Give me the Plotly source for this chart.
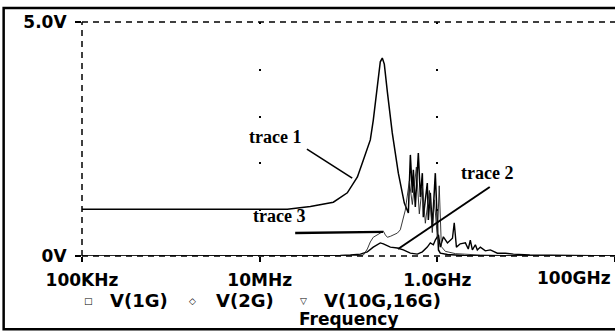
import plotly.graph_objects as go

# ---------------- data ----------------
trace1_freq = [1e5, 1e6, 1e7, 2.05e7, 3.72e7, 6.75e7, 9.7e7, 1.26e8, 1.47e8, 1.76e8, 1.90e8,
               2.11e8, 2.28e8, 2.40e8, 2.53e8, 2.74e8, 3.11e8, 3.64e8, 4.25e8, 4.72e8,
               4.97e8, 5.23e8, 5.37e8, 5.65e8, 6.11e8, 6.44e8, 6.78e8, 6.95e8, 7.71e8,
               7.92e8, 8.34e8, 8.78e8, 9.49e8, 1.0e9, 1.03e9, 1.08e9, 1.3e9, 2e9, 1e10, 1e11]
trace1_v = [1.00, 1.00, 1.00, 1.00, 1.06, 1.15, 1.35, 1.69, 2.05, 2.48, 2.90,
            3.70, 4.15, 4.23, 4.10, 3.50, 2.63, 1.77, 1.13, 0.92,
            2.16, 1.35, 1.84, 1.05, 2.20, 1.26, 1.77, 0.83, 1.56,
            0.77, 1.35, 0.62, 1.77, 0.71, 0.13, 0.06, 0.03, 0.01, 0.0, 0.0]

trace3_freq = [1e5, 1e7, 1e8, 1.47e8, 1.63e8, 1.76e8, 1.90e8, 2.28e8, 2.47e8, 2.60e8,
               2.74e8, 2.96e8, 3.55e8, 3.83e8, 4.14e8, 4.36e8, 4.84e8, 5.23e8, 5.81e8,
               6.27e8, 6.78e8, 7.33e8, 8.13e8, 8.78e8, 9.25e8, 1.0e9, 1.05e9, 1.11e9,
               1.23e9, 1.60e9, 3.05e9, 1.1e10, 1e11]
trace3_v = [0.0, 0.0, 0.0, 0.02, 0.15, 0.30, 0.40, 0.49, 0.53, 0.45,
            0.40, 0.42, 0.49, 0.56, 0.83, 0.98, 1.60, 1.10, 1.90,
            0.90, 1.50, 0.70, 1.40, 0.50, 1.20, 0.40, 1.50, 0.20,
            0.10, 0.05, 0.02, 0.0, 0.0]

trace2_freq = [1e5, 3e7, 8.09e7, 1.05e8, 1.36e8, 1.63e8, 1.90e8, 2.28e8, 2.47e8, 2.96e8,
               3.55e8, 4.14e8, 4.97e8, 5.96e8, 6.78e8, 7.71e8, 8.34e8, 9.02e8, 9.49e8,
               1.03e9, 1.08e9, 1.17e9, 1.30e9, 1.48e9, 1.55e9, 1.64e9, 1.81e9, 2.07e9,
               2.23e9, 2.35e9, 2.48e9, 2.68e9, 2.82e9, 3.05e9, 3.47e9, 3.95e9,
               4.74e9, 5.83e9, 7.18e9, 1.1e10, 1e11]
trace2_v = [0.0, 0.0, 0.01, 0.02, 0.04, 0.09, 0.19, 0.28, 0.26, 0.19,
            0.17, 0.13, 0.06, 0.04, 0.09, 0.19, 0.28, 0.24, 0.34,
            0.45, 0.19, 0.41, 0.28, 0.38, 0.71, 0.19, 0.26, 0.28,
            0.15, 0.34, 0.13, 0.24, 0.13, 0.19, 0.11, 0.13,
            0.06, 0.06, 0.04, 0.02, 0.0]

x_tickvals = [1e5, 1e7, 1e9, 1e11]
x_ticktext = ["100KHz", "10MHz", "1.0GHz", ""]
y_tickvals = [0, 5]
y_ticktext = ["0V", "5.0V"]
legend_names = ["V(1G)", "V(2G)", "V(10G,16G)"]
legend_symbols = ["\u25a1", "\u25c7", "\u25bd"]

BOLD = dict(family="DejaVu Sans", size=17, color="black", weight="bold")

fig = go.Figure()
fig.add_trace(go.Scatter(x=trace1_freq, y=trace1_v, mode="lines",
                         line=dict(color="black", width=1.5), name=legend_names[0]))
fig.add_trace(go.Scatter(x=trace2_freq, y=trace2_v, mode="lines",
                         line=dict(color="black", width=1.4), name=legend_names[1]))
fig.add_trace(go.Scatter(x=trace3_freq, y=trace3_v, mode="lines",
                         line=dict(color="#222", width=0.9), name=legend_names[2]))

# dashed plot frame
dash = "6px,5px"
for x0, y0, x1, y1 in [(0, 0, 0, 1), (0, 1, 1, 1), (0, 0, 1, 0)]:
    fig.add_shape(type="line", xref="x domain", yref="y domain", x0=x0, y0=y0, x1=x1, y1=y1,
                  line=dict(color="black", width=1.5, dash=dash))
# outer border
fig.add_shape(type="rect", xref="paper", yref="paper", x0=-0.147, y0=-0.313, x1=1.02, y1=1.06,
              line=dict(color="black", width=2.5))

# pointer lines for the trace labels
pointers = [((0.422, 0.457), (0.507, 0.333), 1.6),
            ((0.400, 0.098), (0.565, 0.103), 2.4),
            ((0.765, 0.295), (0.593, 0.030), 2.0)]
for (a, b, w) in pointers:
    fig.add_shape(type="line", xref="x domain", yref="y domain", x0=a[0], y0=a[1], x1=b[0], y1=b[1],
                  line=dict(color="black", width=w))

label_font = dict(family="Liberation Serif", size=18, color="black")
for txt, fx, fy in [("<b>trace 1</b>", 0.362, 0.509), ("<b>trace 3</b>", 0.317, 0.120),
                    ("<b>trace 2</b>", 0.812, 0.355)]:
    fig.add_annotation(text=txt, xref="x domain", yref="y domain", x=fx, y=fy,
                       showarrow=False, font=label_font)

# legend row (symbol + name)
for sym, name, sx, nx in zip(legend_symbols, legend_names,
                             [0.0131, 0.2064, 0.4165], [0.0488, 0.2477, 0.4503]):
    fig.add_annotation(text=sym, xref="paper", yref="paper", x=sx, y=-0.192,
                       xanchor="center", yanchor="middle", showarrow=False,
                       font=dict(family="DejaVu Sans", size=9, color="black"))
    fig.add_annotation(text=name, xref="paper", yref="paper", x=nx, y=-0.192,
                       xanchor="left", yanchor="middle", showarrow=False,
                       font=dict(family="DejaVu Sans", size=18, color="black", weight="bold"))
fig.add_annotation(text="100GHz", xref="paper", yref="paper", x=1, y=-0.094, xshift=-2,
                   xanchor="right", yanchor="middle", showarrow=False, font=BOLD)
fig.add_annotation(text="Frequency", xref="paper", yref="paper", x=0.5, y=-0.268,
                   xanchor="center", yanchor="middle", showarrow=False,
                   font=dict(family="DejaVu Sans", size=17, color="black", weight="bold"))

fig.update_xaxes(type="log", range=[5, 11], tickvals=x_tickvals, ticktext=x_ticktext,
                 ticks="outside", ticklen=5, tickwidth=1.5, tickcolor="black",
                 showline=False, zeroline=False, automargin=False,
                 showgrid=True, gridcolor="black", gridwidth=1.6, griddash="2px,44.8px",
                 tickfont=BOLD, ticklabelstandoff=4)
fig.update_yaxes(range=[0, 5], tickvals=y_tickvals, ticktext=y_ticktext,
                 ticks="outside", ticklen=6, tickwidth=1.5, tickcolor="black",
                 showline=False, zeroline=False, showgrid=False, automargin=False,
                 tickfont=BOLD, ticklabelstandoff=5)
fig.update_layout(width=615, height=331, autosize=False, showlegend=False,
                  plot_bgcolor="white", paper_bgcolor="white",
                  margin=dict(l=82, r=0, t=22, b=75, pad=0))
fig.write_html("out.html", config={"displayModeBar": False},
               post_script="document.body.style.margin='0';document.body.style.overflow='hidden';")
